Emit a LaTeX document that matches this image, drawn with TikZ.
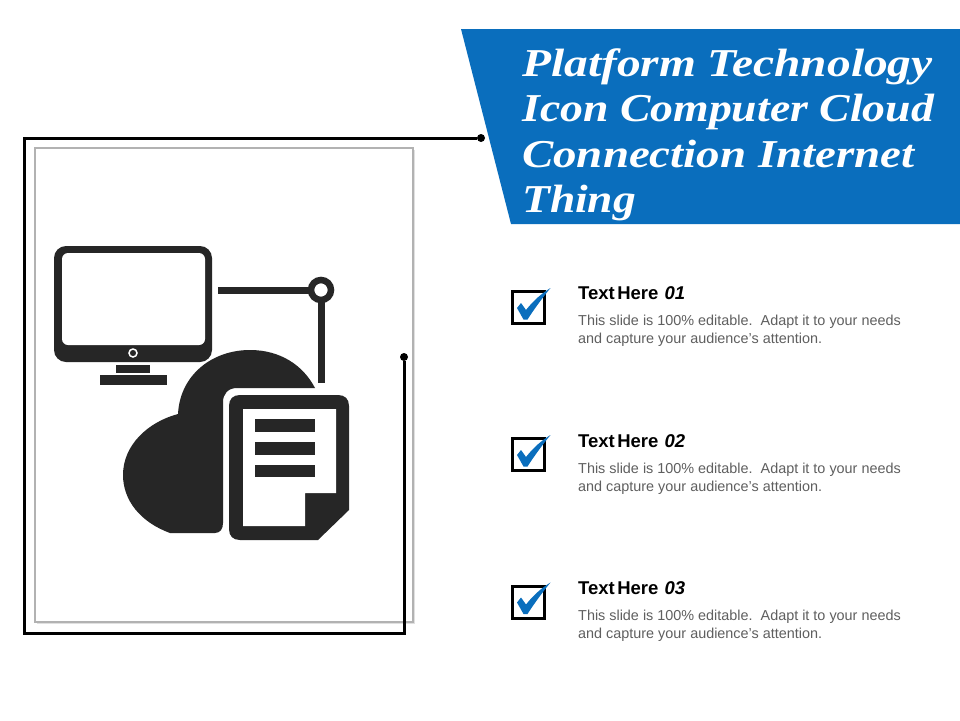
\documentclass[tikz,border=0pt]{standalone}
\usepackage{graphicx}
\usepackage{fontspec}
\setmainfont{Liberation Sans}
\newfontfamily\titlefont[FakeStretch=1.2]{Liberation Serif}
\usetikzlibrary{positioning}
\definecolor{bannerblue}{HTML}{0A6EBD}
\definecolor{icondark}{HTML}{262626}
\definecolor{bodygray}{HTML}{5F5F5F}
\tikzset{
    frameline/.style={draw=black,line width=3pt},
    framedot/.style={circle,fill=black,inner sep=0pt,minimum size=8pt},
    page/.style={draw=black!30,line width=2pt,fill=white},
    icon/.style={fill=icondark,draw=none},
    iconhole/.style={fill=white,draw=none},
    wire/.style={draw=icondark,line width=7pt},
    titleline/.style={anchor=base west,inner sep=0pt,text=white,font=\titlefont\fontsize{39.5}{45}\selectfont\bfseries\itshape},
    itemhead/.style={anchor=base west,inner sep=0pt,font=\fontsize{18.5}{20}\selectfont\bfseries},
    itembody/.style={anchor=base west,inner sep=0pt,align=left,text=bodygray,font=\fontsize{14.4}{18}\selectfont},
    tickbox/.style={draw=black,line width=3pt,fill=white,inner sep=0pt,minimum size=32pt},
}
\newcommand{\itemhead}[1]{Text\hspace{2.5pt}Here\hspace{6pt}\textit{#1}}
\newcommand{\itembody}{This slide is 100\% editable.\ \ Adapt it to your needs\\and capture your audience's attention.}
\newcommand{\tickin}[1]{\fill[bannerblue,shift={(#1.center)}] (-11.5,0.5) -- (-7.5,-4.5) -- (-2.5,2.5) .. controls (5,-7) and (13,-14) .. (22,-19.5) .. controls (15,-11) and (6,1) .. (-1,12) -- (-5,12) -- cycle;}

\begin{document}
\begin{tikzpicture}[x=1pt,y=-1pt]
    \useasboundingbox (0,0) rectangle (960,720);
    \fill[white] (0,0) rectangle (960,720);

    % banner
    \fill[bannerblue] (461,29) -- (960,29) -- (960,224) -- (511,224) -- cycle;
    \node[titleline] (title1) at (522,76.5) {Platform Technology};
    \node[titleline] (title2) at (522,121.5) {\scalebox{0.965}[1]{Icon Computer Cloud}};
    \node[titleline] (title3) at (522,167) {\scalebox{0.99}[1]{Connection Internet}};
    \node[titleline] (title4) at (522,212) {\scalebox{0.96}[1]{Thing}};

    % frame
    \fill[black!12] (37,150) rectangle (415,624);
    \draw[page] (35,148) rectangle (413,622);
    \node[framedot] (dotA) at (481,138) {};
    \node[framedot] (dotB) at (404,357) {};
    \coordinate (cornerA) at (24,138);
    \coordinate (cornerB) at (24,633);
    \coordinate (cornerC) at (404,633);
    \draw[frameline,line join=miter] (dotA) -- (cornerA) -- (cornerB) -- (cornerC) -- (dotB);

    % monitor
    \fill[icon,rounded corners=12pt] (54,246) rectangle (212,362);
    \fill[iconhole,rounded corners=6pt] (62,253) rectangle (205,345);
    \node[circle,fill=icondark,draw=white,line width=1.5pt,inner sep=0pt,minimum size=8pt] (button) at (133,353) {};
    \fill[icon] (116,365) rectangle (150,373);
    \fill[icon] (100,375) rectangle (167,385);

    % wires
    \coordinate (wireA) at (218,290);
    \coordinate (wireB) at (321,383);
    \node[circle,draw=icondark,fill=white,line width=6.5pt,inner sep=0pt,outer sep=0pt,minimum size=20pt] (hub) at (321,290) {};
    \draw[wire] (wireA) -- (hub);
    \draw[wire] (hub) -- (wireB);

    % cloud
    \fill[icon] (170,533) .. controls (140,522) and (123,500) .. (123,475)
        .. controls (123,445) and (148,422) .. (178,414)
        .. controls (180,375) and (212,350) .. (250,350)
        .. controls (280,350) and (303,365) .. (315,388)
        -- (237,388) .. controls (228,388) and (223,394) .. (223,402)
        -- (223,523) .. controls (223,529) and (220,533) .. (215,533) -- cycle;

    % document
    \fill[icon] (240,395) -- (338,395) .. controls (345,395) and (349,399) .. (349,406)
        -- (349,510) -- (318,540) -- (240,540)
        .. controls (233,540) and (229,536) .. (229,529)
        -- (229,406) .. controls (229,399) and (233,395) .. (240,395) -- cycle;
    \fill[iconhole] (243,409) -- (336,409) -- (336,493) -- (305,493) -- (305,526) -- (243,526) -- cycle;
    \fill[icon] (255,419) rectangle (315,432);
    \fill[icon] (255,442) rectangle (315,455);
    \fill[icon] (255,465) rectangle (315,477);

    % items
    \node[itemhead] (head1) at (578,299) {\itemhead{01}};
    \node[itembody,below=44.5pt of head1.base west,anchor=base west] (body1) {\itembody};
    \node[tickbox] (box1) at (528.5,307.5) {};
    \tickin{box1}

    \node[itemhead] (head2) at (578,447) {\itemhead{02}};
    \node[itembody,below=44.5pt of head2.base west,anchor=base west] (body2) {\itembody};
    \node[tickbox] (box2) at (528.5,454.5) {};
    \tickin{box2}

    \node[itemhead] (head3) at (578,594) {\itemhead{03}};
    \node[itembody,below=44.5pt of head3.base west,anchor=base west] (body3) {\itembody};
    \node[tickbox] (box3) at (528.5,602) {};
    \tickin{box3}
\end{tikzpicture}
\end{document}
